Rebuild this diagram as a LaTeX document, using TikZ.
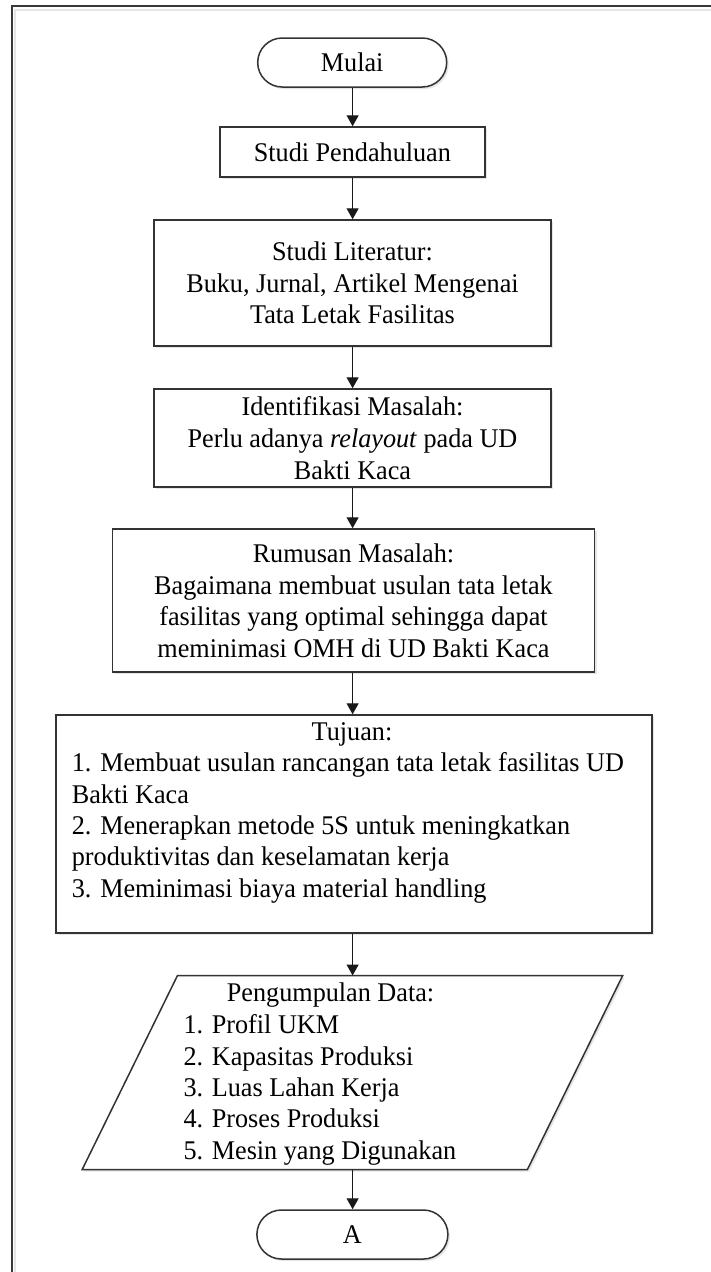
\documentclass[tikz,border=0pt]{standalone}
\usepackage{fontspec}
\setmainfont{Liberation Serif}[FakeStretch=0.97]
\usetikzlibrary{arrows.meta,shadows}
\begin{document}
\begin{tikzpicture}[x=1bp,y=-1bp,
  shd/.style={drop shadow={shadow xshift=2bp,shadow yshift=-2bp,fill=black!10,opacity=1}},
  box/.style={draw=black!80, line width=1.5bp, fill=white, inner sep=0pt, shd,
    font=\fontsize{27bp}{31.7bp}\selectfont, align=center},
  term/.style={box, rounded corners=#1},
  txt/.style={inner sep=0pt, font=\fontsize{27bp}{31.3bp}\selectfont},
  arr/.style={draw=black!90, line width=1.3bp, -{Triangle[length=11bp,width=12bp]}},
]
\useasboundingbox (0,0) rectangle (711,1272);
\draw[black!10, line width=2bp] (14.5,1290) -- (14.5,9.5) -- (730,9.5);
\draw[black!78, line width=2.3bp] (11.7,1290) -- (11.7,6.3) -- (730,6.3);

\node[term=24.5bp, minimum width=189bp, minimum height=49bp] (mulai) at (352.2,62.5) {Mulai};
\node[box, minimum width=265bp, minimum height=50bp] (pend) at (352.4,152) {Studi Pendahuluan};
\node[box, minimum width=397bp, minimum height=126bp] (lit) at (352.5,283)
  {Studi Literatur:\\Buku, Jurnal, Artikel Mengenai\\Tata Letak Fasilitas};
\node[box, minimum width=397bp, minimum height=98bp] (ident) at (352.5,438)
  {Identifikasi Masalah:\\Perlu adanya \textit{relayout} pada UD\\Bakti Kaca};
\node[box, minimum width=482bp, minimum height=143bp, text depth=0pt] (rum) at (353.5,600.5)
  {Rumusan Masalah:\\Bagaimana membuat usulan tata letak\\fasilitas yang optimal sehingga dapat\\meminimasi OMH di UD Bakti Kaca};
\node[box, minimum width=596bp, minimum height=218bp] (tuj) at (353.8,824) {};
\node[txt, anchor=base] (tujhead) at (352,740) {Tujuan:};
\node[txt, anchor=north west, align=left] (tujlist) at (71.7,752.6)
  {1. Membuat usulan rancangan tata letak fasilitas UD\\Bakti Kaca\\2. Menerapkan metode 5S untuk meningkatkan\\produktivitas dan keselamatan kerja\\3. Meminimasi biaya material handling};

\coordinate (pdtop) at (352.6,975.5);
\coordinate (pdbot) at (352.6,1169.5);
\filldraw[draw=black!80, fill=white, line width=1.5bp, shd]
  (177.5,975.5) -- (622.7,975.5) -- (527.4,1169.5) -- (82.2,1169.5) -- cycle;
\node[txt, anchor=base west] (pdhead) at (226.7,1001.7) {Pengumpulan Data:};
\node[txt, anchor=north west, align=left] (pdlist) at (183.3,1014.6)
  {1. Profil UKM\\2. Kapasitas Produksi\\3. Luas Lahan Kerja\\4. Proses Produksi\\5. Mesin yang Digunakan};

\node[term=24.5bp, minimum width=191bp, minimum height=49bp] (a) at (352.4,1234.5) {A};

\draw[arr] (mulai.south -| pdtop) -- (pend.north -| pdtop);
\draw[arr] (pend.south -| pdtop) -- (lit.north -| pdtop);
\draw[arr] (lit.south -| pdtop) -- (ident.north -| pdtop);
\draw[arr] (ident.south -| pdtop) -- (rum.north -| pdtop);
\draw[arr] (rum.south -| pdtop) -- (tuj.north -| pdtop);
\draw[arr] (tuj.south -| pdtop) -- (pdtop);
\draw[arr] (pdbot) -- (a.north -| pdbot);
\end{tikzpicture}
\end{document}
